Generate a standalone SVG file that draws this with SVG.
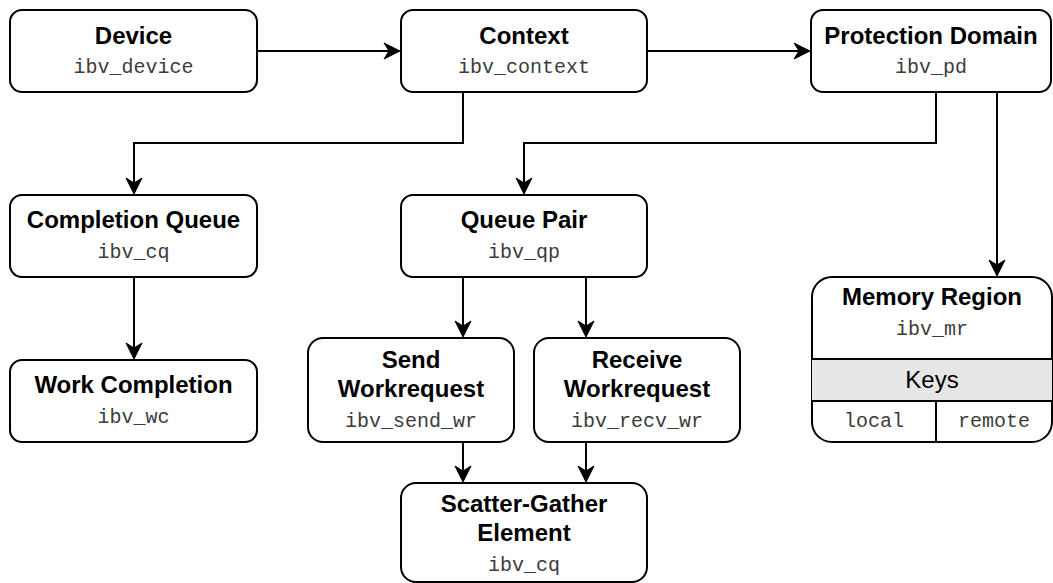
<svg xmlns="http://www.w3.org/2000/svg" width="1053" height="583" viewBox="0 0 1053 583">
  <style>
    .box { fill: #ffffff; stroke: #000000; stroke-width: 2; }
    .title { font-family: "Liberation Sans", Arial, Helvetica, sans-serif; font-weight: bold; font-size: 24px; fill: #000000; text-anchor: middle; }
    .code { font-family: "Liberation Mono", "Courier New", monospace; font-size: 20px; fill: #3c3c3c; text-anchor: middle; }
    .plain { font-family: "Liberation Sans", Arial, Helvetica, sans-serif; font-size: 24px; fill: #000000; text-anchor: middle; }
    .edge { fill: none; stroke: #000000; stroke-width: 2; marker-end: url(#arrow); }
    .rule { stroke: #000000; stroke-width: 2; }
  </style>
  <defs>
    <marker id="arrow" viewBox="-18 -10 20 20" refX="0" refY="0" markerWidth="20" markerHeight="20" markerUnits="userSpaceOnUse" orient="auto">
      <path d="M1,0 L-15,-8 L-10,0 L-15,8 Z" fill="#000000" stroke="#000000" stroke-width="1" stroke-linejoin="miter"/>
    </marker>
  </defs>

  <rect width="1053" height="583" fill="#ffffff"/>

  <!-- connectors -->
  <g id="connectors">
    <path class="edge" d="M257,51 H399"/>
    <path class="edge" d="M647,51 H809"/>
    <path class="edge" d="M463,92 V143 H134 V193"/>
    <path class="edge" d="M936,92 V143 H524 V193"/>
    <path class="edge" d="M997,92 V275"/>
    <path class="edge" d="M134,277 V358"/>
    <path class="edge" d="M463,277 V336"/>
    <path class="edge" d="M586,277 V336"/>
    <path class="edge" d="M463,442 V481"/>
    <path class="edge" d="M586,442 V481"/>
  </g>

  <!-- nodes -->
  <g id="device">
    <rect class="box" x="10" y="10" width="247" height="82" rx="12"/>
    <text class="title" x="133.5" y="44">Device</text>
    <text class="code" x="133.5" y="73">ibv_device</text>
  </g>

  <g id="context">
    <rect class="box" x="401" y="10" width="246" height="82" rx="12"/>
    <text class="title" x="524" y="44">Context</text>
    <text class="code" x="524" y="73">ibv_context</text>
  </g>

  <g id="protection-domain">
    <rect class="box" x="811" y="10" width="240" height="82" rx="12"/>
    <text class="title" x="931" y="44">Protection Domain</text>
    <text class="code" x="931" y="73">ibv_pd</text>
  </g>

  <g id="completion-queue">
    <rect class="box" x="10" y="195" width="247" height="82" rx="12"/>
    <text class="title" x="133.5" y="228">Completion Queue</text>
    <text class="code" x="133.5" y="258">ibv_cq</text>
  </g>

  <g id="queue-pair">
    <rect class="box" x="401" y="195" width="246" height="82" rx="12"/>
    <text class="title" x="524" y="228">Queue Pair</text>
    <text class="code" x="524" y="258">ibv_qp</text>
  </g>

  <g id="work-completion">
    <rect class="box" x="10" y="360" width="247" height="82" rx="12"/>
    <text class="title" x="133.5" y="393">Work Completion</text>
    <text class="code" x="133.5" y="423">ibv_wc</text>
  </g>

  <g id="send-workrequest">
    <rect class="box" x="308" y="338" width="206" height="104" rx="15"/>
    <text class="title" x="411" y="368">Send</text>
    <text class="title" x="411" y="397">Workrequest</text>
    <text class="code" x="411" y="427">ibv_send_wr</text>
  </g>

  <g id="receive-workrequest">
    <rect class="box" x="534" y="338" width="206" height="104" rx="15"/>
    <text class="title" x="637" y="368">Receive</text>
    <text class="title" x="637" y="397">Workrequest</text>
    <text class="code" x="637" y="427">ibv_recv_wr</text>
  </g>

  <g id="scatter-gather-element">
    <rect class="box" x="401" y="483" width="246" height="99" rx="15"/>
    <text class="title" x="524" y="512">Scatter-Gather</text>
    <text class="title" x="524" y="541">Element</text>
    <text class="code" x="524" y="571">ibv_cq</text>
  </g>

  <g id="memory-region">
    <rect class="box" x="812" y="277" width="240" height="165" rx="20"/>
    <rect x="812" y="359" width="240" height="42" fill="#e6e6e6"/>
    <line class="rule" x1="812" y1="359" x2="1052" y2="359"/>
    <line class="rule" x1="812" y1="401" x2="1052" y2="401"/>
    <line class="rule" x1="936" y1="401" x2="936" y2="442"/>
    <text class="title" x="932" y="305">Memory Region</text>
    <text class="code" x="932" y="335">ibv_mr</text>
    <text class="plain" x="932" y="388">Keys</text>
    <text class="code" x="874" y="427">local</text>
    <text class="code" x="994" y="427">remote</text>
  </g>
</svg>
